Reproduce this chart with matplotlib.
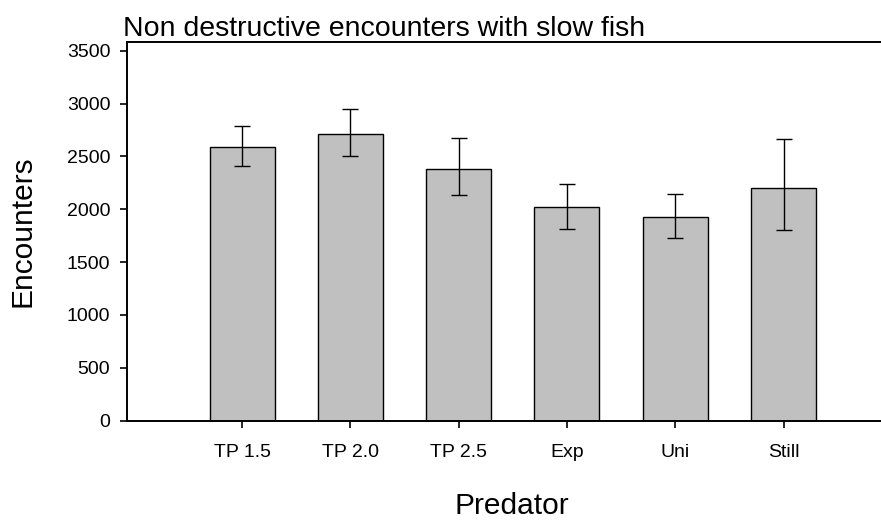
import matplotlib
matplotlib.use("Agg")
import matplotlib.pyplot as plt
import numpy as np

plt.rcParams['font.family'] = ['Liberation Sans', 'DejaVu Sans']

categories = ["TP 1.5", "TP 2.0", "TP 2.5", "Exp", "Uni", "Still"]
means = [2585, 2711, 2379, 2022, 1929, 2202]
err_upper = [2787, 2951, 2676, 2234, 2145, 2664]
err_lower = [2405, 2500, 2133, 1810, 1725, 1807]
yticks = [0, 500, 1000, 1500, 2000, 2500, 3000, 3500]

fig = plt.figure(figsize=(8.81, 5.2), dpi=100)
ax = fig.add_axes([127/881, 1 - 420.5/520, 1 - 127/881, (420.5 - 42.3)/520])

x = np.arange(len(categories))
means_a = np.array(means)
yerr = np.vstack([means_a - np.array(err_lower), np.array(err_upper) - means_a])
ax.bar(x, means_a, width=0.6, color='#c0c0c0', edgecolor='black', linewidth=1.0, zorder=2)
ax.errorbar(x, means_a, yerr=yerr, fmt='none', ecolor='black', elinewidth=1.0,
            capsize=6, capthick=1.0, zorder=3)

ax.set_xlim(-1.062, 5.9)
ax.set_ylim(0, 3580)
ax.set_xticks(x)
ax.set_xticklabels(categories, fontsize=14)
ax.set_yticks(yticks)
ax.set_yticklabels([str(v) for v in yticks], fontsize=14)
ax.tick_params(axis='both', direction='out', length=5, width=1.2)
ax.tick_params(axis='y', pad=7)
ax.tick_params(axis='x', pad=12)

for s in ['left', 'bottom', 'top']:
    ax.spines[s].set_linewidth(1.4)
ax.spines['right'].set_visible(False)

ax.set_title("Non destructive encounters with slow fish", loc='left', fontsize=20.5, pad=3, x=-0.005)
ax.set_xlabel("Predator", fontsize=21.5, labelpad=22)
ax.set_ylabel("Encounters", fontsize=21.5, labelpad=22)
ax.xaxis.set_label_coords((512 - 127) / (881 - 127), -0.19)

fig.savefig("out.png", dpi=100)
